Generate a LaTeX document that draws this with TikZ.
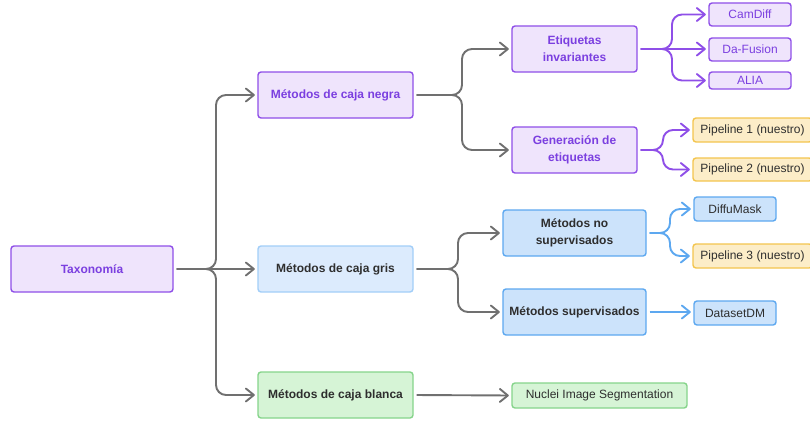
\documentclass[tikz,border=0pt]{standalone}
\usepackage{fontspec}
\setmainfont{Liberation Sans}
\usetikzlibrary{arrows.meta}

\definecolor{pfill}{HTML}{EFE4FC}
\definecolor{pline}{HTML}{8F4FE8}
\definecolor{ptext}{HTML}{7B3FE0}
\definecolor{gbfill}{HTML}{DCEBFD}
\definecolor{gbline}{HTML}{A2CEF8}
\definecolor{bfill}{HTML}{CCE3FB}
\definecolor{bline}{HTML}{5DA8F0}
\definecolor{grfill}{HTML}{D6F4D6}
\definecolor{grline}{HTML}{86D48B}
\definecolor{yfill}{HTML}{FCEDC8}
\definecolor{yline}{HTML}{F3C54E}
\definecolor{dtext}{HTML}{2E2E2E}
\definecolor{conn}{HTML}{707070}

\tikzset{
  box/.style={rounded corners=3pt, line width=1.4pt, inner sep=0pt, align=center,
    font=\fontsize{12}{17}\selectfont},
  main/.style={box, font=\fontsize{12}{17}\selectfont\bfseries},
  purplebox/.style={main, fill=pfill, draw=pline, text=ptext},
  purpleleaf/.style={box, fill=pfill, draw=pline, text=ptext},
  greybox/.style={main, fill=gbfill, draw=gbline, text=dtext},
  bluebox/.style={main, fill=bfill, draw=bline, text=dtext},
  blueleaf/.style={box, fill=bfill, draw=bline, text=dtext},
  greenbox/.style={main, fill=grfill, draw=grline, text=dtext},
  greenleaf/.style={box, fill=grfill, draw=grline, text=dtext},
  yellowleaf/.style={box, fill=yfill, draw=yline, text=dtext},
  tip/.tip={Straight Barb[length=8pt,width=13pt,line cap=round,line join=round]},
  link/.style={line width=1.9pt, rounded corners=10pt, -tip,
    shorten <=3pt, shorten >=2.5pt},
  greylink/.style={link, draw=conn},
  purplelink/.style={link, draw=pline},
  bluelink/.style={link, draw=bline},
}

\begin{document}
\begin{tikzpicture}[x=1pt, y=-1pt]
  \useasboundingbox (0,0) rectangle (810,420);

  % root and first level
  \node[purplebox, minimum width=162pt, minimum height=46pt] (tax) at (92,269) {Taxonomía};
  \node[purplebox, minimum width=155pt, minimum height=46pt] (negra) at (335.5,95) {Métodos de caja negra};
  \node[greybox, minimum width=155pt, minimum height=46pt] (gris) at (335.5,269) {Métodos de caja gris};
  \node[greenbox, minimum width=155pt, minimum height=46pt] (blanca) at (335.5,395) {Métodos de caja blanca};

  % second level
  \node[purplebox, minimum width=125pt, minimum height=46pt] (inv) at (574.5,49) {Etiquetas\\invariantes};
  \node[purplebox, minimum width=125pt, minimum height=46pt] (gen) at (574.5,150) {Generación de\\etiquetas};
  \node[bluebox, minimum width=143pt, minimum height=46pt] (nosup) at (574.5,233) {Métodos no\\supervisados};
  \node[bluebox, minimum width=143pt, minimum height=46pt] (sup) at (574.5,312) {Métodos supervisados};
  \node[greenleaf, minimum width=175pt, minimum height=25pt] (nuclei) at (599.5,395.5) {Nuclei Image Segmentation};

  % leaves
  \node[purpleleaf, minimum width=82pt, minimum height=23pt] (camdiff) at (750,14.5) {CamDiff};
  \node[purpleleaf, minimum width=82pt, minimum height=23pt] (dafusion) at (750,49.5) {Da-Fusion};
  \node[purpleleaf, minimum width=82pt, minimum height=17pt] (alia) at (750,80.5) {ALIA};
  \node[yellowleaf, minimum width=119pt, minimum height=24pt] (p1) at (752.5,130) {Pipeline 1 (nuestro)};
  \node[yellowleaf, minimum width=119pt, minimum height=23pt] (p2) at (752.5,169.5) {Pipeline 2 (nuestro)};
  \node[blueleaf, minimum width=82pt, minimum height=24pt] (diffumask) at (735,209) {DiffuMask};
  \node[yellowleaf, minimum width=119pt, minimum height=24pt] (p3) at (752.5,256) {Pipeline 3 (nuestro)};
  \node[blueleaf, minimum width=82pt, minimum height=24pt] (datasetdm) at (735,313) {DatasetDM};

  % branching columns
  \coordinate (busA) at (216,0);
  \coordinate (busB) at (462,0);
  \coordinate (busC) at (458,0);
  \coordinate (busD) at (672,0);
  \coordinate (busE) at (663,0);
  \coordinate (busF) at (670,0);

  % connectors
  \draw[greylink] (tax.east) -- (tax.east -| busA) |- (negra.west);
  \draw[greylink] (tax.east) -- (gris.west);
  \draw[greylink] (tax.east) -- (tax.east -| busA) |- (blanca.west);

  \draw[greylink] (negra.east) -- (negra.east -| busB) |- (inv.west);
  \draw[greylink] (negra.east) -- (negra.east -| busB) |- (gen.west);

  \draw[greylink] (gris.east) -- (gris.east -| busC) |- (nosup.west);
  \draw[greylink] (gris.east) -- (gris.east -| busC) |- (sup.west);

  \draw[greylink] (blanca.east) -- (nuclei.west);

  \draw[purplelink] (inv.east) -- (inv.east -| busD) |- (camdiff.west);
  \draw[purplelink] (inv.east) -- (dafusion.west |- inv.east);
  \draw[purplelink] (inv.east) -- (inv.east -| busD) |- (alia.west);

  \draw[purplelink] (gen.east) -- (gen.east -| busE) |- (p1.west);
  \draw[purplelink] (gen.east) -- (gen.east -| busE) |- (p2.west);

  \draw[bluelink] (nosup.east) -- (nosup.east -| busF) |- (diffumask.west);
  \draw[bluelink] (nosup.east) -- (nosup.east -| busF) |- (p3.west);

  \draw[bluelink] (sup.east) -- (datasetdm.west |- sup.east);
\end{tikzpicture}
\end{document}
